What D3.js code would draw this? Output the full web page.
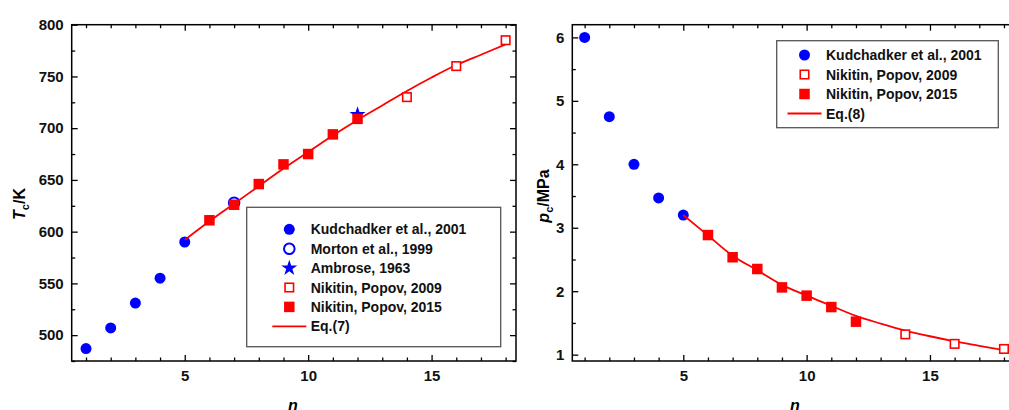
<!DOCTYPE html>
<html><head><meta charset="utf-8">
<script src="https://cdn.jsdelivr.net/npm/d3@7"></script>
<style>
body{margin:0;background:#fff;}
svg{display:block;font-family:"Liberation Sans",Arial,sans-serif;font-weight:bold;}
</style></head>
<body><svg id="c" width="1009" height="410"></svg>
<script>
// ---- data: left panel (Tc) ----
const nKud = [1, 2, 3, 4, 5];
const tcKud = [487, 507, 531, 555, 590];
const nMorton = [7];
const tcMorton = [628];
const nAmbrose = [12];
const tcAmbrose = [713];
const nNik2009 = [14, 16, 18];
const tcNik2009 = [730, 760, 785];
const nNik2015 = [6, 7, 8, 9, 10, 11, 12];
const tcNik2015 = [611, 626, 646, 665, 675, 694, 709];
const nEq = [5, 6, 7, 8, 9, 10, 11, 12, 13, 14, 15, 16, 17, 18];
const tcEq7 = [592, 610, 627, 644, 661, 677, 693, 708, 722, 736, 749, 761, 771, 781];
// ---- data: right panel (pc) ----
const pcKud = [6.0, 4.75, 4.0, 3.47, 3.2];
const pcNik2009 = [1.32, 1.17, 1.09];
const pcNik2015 = [2.885, 2.535, 2.35, 2.06, 1.93, 1.75, 1.52];
const pcEq8 = [3.2, 2.88, 2.56, 2.33, 2.10, 1.93, 1.77, 1.61, 1.49, 1.38, 1.29, 1.21, 1.14, 1.07];
// ticks
const xTicks = [5, 10, 15];
const tcTicks = [500, 550, 600, 650, 700, 750, 800];
const pcTicks = [1, 2, 3, 4, 5, 6];
const legendLeft = ["Kudchadker et al., 2001", "Morton et al., 1999", "Ambrose, 1963", "Nikitin, Popov, 2009", "Nikitin, Popov, 2015", "Eq.(7)"];
const legendRight = ["Kudchadker et al., 2001", "Nikitin, Popov, 2009", "Nikitin, Popov, 2015", "Eq.(8)"];

const BLUE = "#0000ff", RED = "#ff0000";
const svg = d3.select("#c");
const yTop = 24.7, yBot = 361;

function panel(opt) {
  const x = d3.scaleLinear().domain(opt.xd).range([opt.x0, opt.x1]);
  const y = d3.scaleLinear().domain(opt.yd).range([yBot, yTop]);
  const g = svg.append("g");
  const xMinor = d3.range(Math.ceil(opt.xd[0]), Math.floor(opt.xd[1]) + 1);
  const yMinor = d3.range(Math.ceil(opt.yd[0] / opt.yMinorStep) * opt.yMinorStep, opt.yd[1] + 1e-9, opt.yMinorStep);
  const mk = (axisFn, scale, vals, size, tr, fmt, pad) => {
    const a = axisFn(scale).tickValues(vals).tickSize(size).tickPadding(pad || 8);
    a.tickFormat(fmt || (() => ""));
    const ax = g.append("g").attr("transform", tr).call(a);
    ax.select(".domain").remove();
    ax.selectAll("line").attr("stroke", "#000").attr("stroke-width", 1.3);
    ax.selectAll("text").attr("font-size", 15).attr("font-weight", "bold").attr("fill", "#111")
      .attr("font-family", '"Liberation Sans",Arial,sans-serif');
    return ax;
  };
  const ymin = yMinor.filter(v => Math.abs(v / opt.yMajorStep - Math.round(v / opt.yMajorStep)) > 1e-6);
  const xmin = xMinor.filter(v => v % 5 !== 0);
  mk(d3.axisBottom, x, xmin, -3.5, `translate(0,${yBot})`);
  mk(d3.axisBottom, x, xTicks, -6, `translate(0,${yBot})`, d3.format("d"), 9);
  mk(d3.axisTop, x, xmin, -3.5, `translate(0,${yTop})`);
  mk(d3.axisTop, x, xTicks, -6, `translate(0,${yTop})`);
  mk(d3.axisLeft, y, ymin, -3.5, `translate(${opt.x0},0)`);
  mk(d3.axisLeft, y, opt.yTicks, -6, `translate(${opt.x0},0)`, d3.format("d"), 8);
  mk(d3.axisRight, y, ymin, -3.5, `translate(${opt.x1},0)`);
  mk(d3.axisRight, y, opt.yTicks, -6, `translate(${opt.x1},0)`);
  g.append("rect").attr("x", opt.x0).attr("y", yTop).attr("width", opt.x1 - opt.x0).attr("height", yBot - yTop)
    .attr("fill", "none").attr("stroke", "#000").attr("stroke-width", 1.5);
  return {x, y, g};
}

function circles(g, x, y, xs, ys, filled) {
  g.selectAll(null).data(xs).enter().append("circle")
    .attr("cx", d => x(d)).attr("cy", (d, i) => y(ys[i])).attr("r", filled ? 5.5 : 5.3)
    .attr("fill", filled ? BLUE : "none").attr("stroke", filled ? "none" : BLUE).attr("stroke-width", 2);
}
function squares(g, x, y, xs, ys, filled) {
  const s = filled ? 10.5 : 8.5;
  g.selectAll(null).data(xs).enter().append("rect")
    .attr("x", d => x(d) - s / 2).attr("y", (d, i) => y(ys[i]) - s / 2).attr("width", s).attr("height", s)
    .attr("fill", filled ? RED : "#fff").attr("stroke", filled ? "none" : RED).attr("stroke-width", 1.6);
}
function stars(g, x, y, xs, ys) {
  const sym = d3.symbol().type(d3.symbolStar).size(80);
  g.selectAll(null).data(xs).enter().append("path")
    .attr("d", sym).attr("transform", (d, i) => `translate(${x(d)},${y(ys[i])})`).attr("fill", BLUE);
}
function eqLine(g, x, y, xs, ys) {
  g.append("path").datum(xs)
    .attr("d", d3.line().x(d => x(d)).y((d, i) => y(ys[i])).curve(d3.curveCatmullRom))
    .attr("fill", "none").attr("stroke", RED).attr("stroke-width", 1.8);
}

// ---- left panel ----
const L = panel({x0: 71.7, x1: 516, xd: [0.42, 18.42], yd: [475, 800], yTicks: tcTicks, yMinorStep: 25, yMajorStep: 50});
circles(L.g, L.x, L.y, nKud, tcKud, true);
circles(L.g, L.x, L.y, nMorton, tcMorton, false);
stars(L.g, L.x, L.y, nAmbrose, tcAmbrose);
eqLine(L.g, L.x, L.y, nEq, tcEq7);
squares(L.g, L.x, L.y, nNik2009, tcNik2009, false);
squares(L.g, L.x, L.y, nNik2015, tcNik2015, true);

// ---- right panel ----
const R = panel({x0: 572.3, x1: 1016.3, xd: [0.5, 18.5], yd: [0.9, 6.2], yTicks: pcTicks, yMinorStep: 0.5, yMajorStep: 1});
circles(R.g, R.x, R.y, nKud, pcKud, true);
eqLine(R.g, R.x, R.y, nEq, pcEq8);
squares(R.g, R.x, R.y, nNik2009, pcNik2009, false);
squares(R.g, R.x, R.y, nNik2015, pcNik2015, true);

// ---- axis titles ----
function xTitle(cx) {
  svg.append("text").attr("x", cx).attr("y", 411).attr("text-anchor", "middle")
    .attr("font-size", 16).attr("font-style", "italic").attr("font-weight", "bold").text("n");
}
xTitle(293); xTitle(795);
function yTitle(cx, cy, sym, unit) {
  const t = svg.append("text").attr("transform", `translate(${cx},${cy}) rotate(-90)`)
    .attr("text-anchor", "middle").attr("font-size", 16).attr("font-weight", "bold");
  t.append("tspan").attr("font-style", "italic").text(sym);
  t.append("tspan").attr("font-size", 11).attr("dy", 4).text("c");
  t.append("tspan").attr("dy", -4).text("/" + unit);
}
yTitle(25, 204, "T", "K");
yTitle(549, 196, "p", "MPa");

// ---- legends ----
function legend(box, sx, tx, y0, dy, items, markers) {
  svg.append("rect").attr("x", box[0]).attr("y", box[1]).attr("width", box[2]).attr("height", box[3])
    .attr("fill", "#fff").attr("stroke", "#555").attr("stroke-width", 1.3);
  items.forEach((txt, i) => {
    const cy = y0 + i * dy;
    const m = markers[i];
    if (m === "fc") svg.append("circle").attr("cx", sx).attr("cy", cy).attr("r", 5.5).attr("fill", BLUE);
    if (m === "oc") svg.append("circle").attr("cx", sx).attr("cy", cy).attr("r", 5.3).attr("fill", "none").attr("stroke", BLUE).attr("stroke-width", 2);
    if (m === "st") svg.append("path").attr("d", d3.symbol().type(d3.symbolStar).size(80)()).attr("transform", `translate(${sx},${cy})`).attr("fill", BLUE);
    if (m === "os") svg.append("rect").attr("x", sx - 4.25).attr("y", cy - 4.25).attr("width", 8.5).attr("height", 8.5).attr("fill", "#fff").attr("stroke", RED).attr("stroke-width", 1.6);
    if (m === "fs") svg.append("rect").attr("x", sx - 5.25).attr("y", cy - 5.25).attr("width", 10.5).attr("height", 10.5).attr("fill", RED);
    if (m === "ln") svg.append("line").attr("x1", sx - 17).attr("x2", sx + 17).attr("y1", cy).attr("y2", cy).attr("stroke", RED).attr("stroke-width", 1.8);
    svg.append("text").attr("x", tx).attr("y", cy + 5).attr("font-size", 14).attr("font-weight", "bold").attr("fill", "#111").text(txt);
  });
}
legend([246.7, 207.3, 254, 139.4], 289.3, 310.7, 229.3, 19.4, legendLeft, ["fc", "oc", "st", "os", "fs", "ln"]);
legend([776.7, 40.7, 221.6, 87], 804.5, 826, 55, 19.5, legendRight, ["fc", "os", "fs", "ln"]);
</script></body></html>
